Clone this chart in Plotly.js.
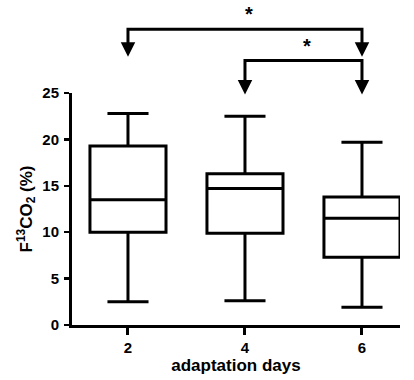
<!DOCTYPE html>
<html><head><meta charset="utf-8">
<script src="https://cdn.plot.ly/plotly-3.0.1.min.js"></script>
<style>html,body{margin:0;padding:0;background:#fff}</style>
</head><body>
<div id="chart" style="width:414px;height:380px"></div>
<script>
// ---- data ----
const days = [2, 4, 6];
const lowerWhisker = [2.5, 2.6, 1.9];
const q1 = [10.0, 9.9, 7.3];
const median = [13.5, 14.7, 11.5];
const q3 = [19.3, 16.3, 13.8];
const upperWhisker = [22.8, 22.5, 19.7];
const yTickVals = [0, 5, 10, 15, 20, 25];
const compFrom = [2, 4];
const compTo = [6, 6];
const compLabels = ['*', '*'];

// ---- layout / style ----
const W = 414, H = 380;
const M = {l: 72, r: 14, t: 5, b: 55};
const yMax = 25;
const plotH = H - M.t - M.b;
const pxPerUnit = 232 / yMax;
const yDomainTop = (yMax * pxPerUnit) / plotH;
const y2Max = plotH / pxPerUnit;
const bracketTop = [31.86, 28.5];
const bracketTip = [28.91, 24.84];
const headPx = 14.5;
const FONT = 'Liberation Sans, Arial, Helvetica, sans-serif';

const traces = [{
  type: 'box', x: days, q1: q1, median: median, q3: q3,
  lowerfence: lowerWhisker, upperfence: upperWhisker,
  width: 1.3, whiskerwidth: 0.54, boxpoints: false,
  line: {color: '#000', width: 3}, fillcolor: 'rgba(0,0,0,0)',
  xaxis: 'x', yaxis: 'y', showlegend: false, hoverinfo: 'skip'
}];

const annotations = [];
compFrom.forEach((a, i) => {
  const b = compTo[i];
  const lineEnd = bracketTip[i] + (headPx - 3) / pxPerUnit;
  traces.push({
    type: 'scatter', mode: 'lines', xaxis: 'x', yaxis: 'y2',
    x: [a, a, b, b], y: [lineEnd, bracketTop[i], bracketTop[i], lineEnd],
    line: {color: '#000', width: 3}, showlegend: false, hoverinfo: 'skip', cliponaxis: false
  });
  traces.push({
    type: 'scatter', mode: 'markers', xaxis: 'x', yaxis: 'y2',
    x: [a, b], y: [bracketTip[i], bracketTip[i]],
    marker: {symbol: 'arrow-down', size: headPx, color: '#000', line: {width: 0}},
    showlegend: false, hoverinfo: 'skip', cliponaxis: false
  });
  annotations.push({
    xref: 'x', yref: 'y2', x: (a + b) / 2, y: bracketTop[i], text: compLabels[i],
    showarrow: false, yanchor: 'bottom', xshift: 4, yshift: 2,
    font: {family: FONT, size: 20, color: '#000', weight: 'bold'}
  });
});

const layout = {
  width: W, height: H, margin: M,
  paper_bgcolor: '#fff', plot_bgcolor: 'rgba(0,0,0,0)',
  showlegend: false,
  font: {family: FONT, color: '#000', weight: 'bold'},
  xaxis: {
    anchor: 'y', range: [1.043, 6.65], tickvals: days,
    ticks: 'outside', ticklen: 7, tickwidth: 3, tickcolor: '#000',
    showline: true, linewidth: 3, linecolor: '#000',
    showgrid: false, zeroline: false,
    tickfont: {family: FONT, size: 15, color: '#000', weight: 'bold'},
    title: {text: 'adaptation days', font: {family: FONT, size: 17, color: '#000', weight: 'bold'}, standoff: 2}
  },
  yaxis: {
    anchor: 'x', domain: [0, yDomainTop], range: [0, yMax], tickvals: yTickVals,
    ticks: 'outside', ticklen: 5, tickwidth: 2.5, tickcolor: '#000',
    showline: true, linewidth: 3, linecolor: '#000',
    showgrid: false, zeroline: false, ticklabelstandoff: 2,
    tickfont: {family: FONT, size: 15, color: '#000', weight: 'bold'},
    title: {text: 'F<sup>13</sup>CO<sub>2</sub> (%)', font: {family: FONT, size: 17, color: '#000', weight: 'bold'}, standoff: 6}
  },
  yaxis2: {anchor: 'x', domain: [0, 1], range: [0, y2Max], visible: false, fixedrange: true},
  annotations: annotations
};

Plotly.newPlot('chart', traces, layout, {staticPlot: true, displayModeBar: false});
</script>
</body></html>
